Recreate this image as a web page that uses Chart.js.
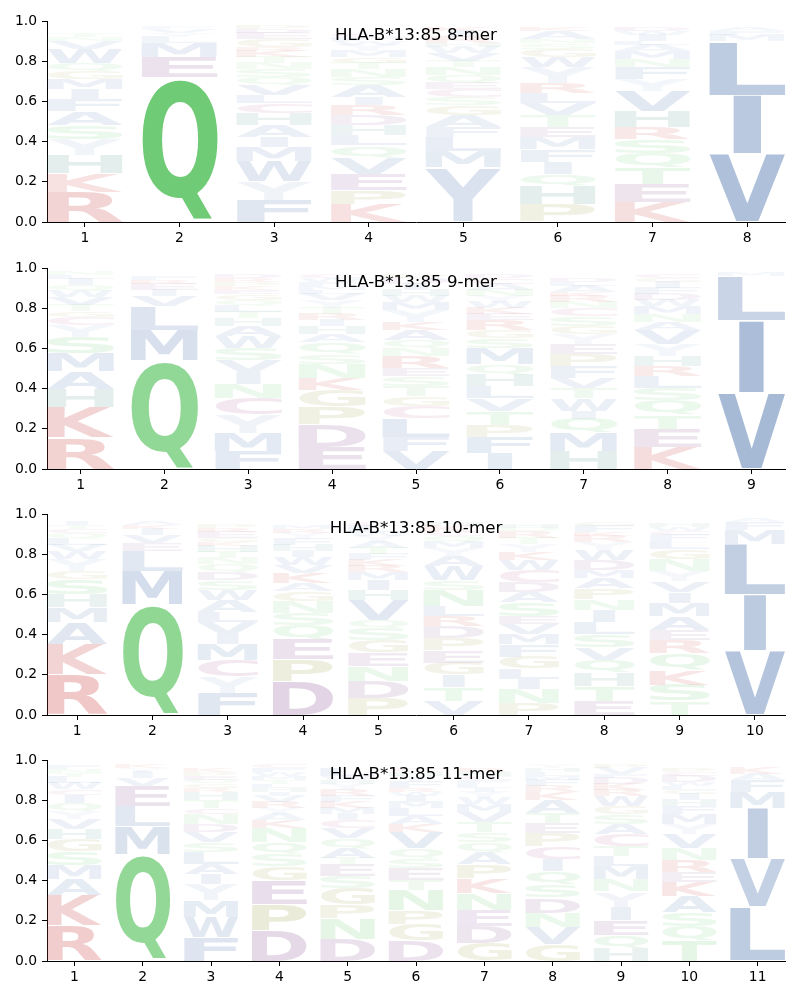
<!DOCTYPE html>
<html>
<head>
<meta charset="utf-8">
<script src="https://cdn.jsdelivr.net/npm/chart.js@4.4.1/dist/chart.umd.min.js"></script>
<style>
  body { margin: 0; background: #fff; }
  #wrap { position: relative; width: 800px; height: 1000px; }
  #wrap canvas { position: absolute; left: 0; }
</style>
</head>
<body>
<div id="wrap">
  <canvas id="p8" width="800" height="247" style="top:0px"></canvas>
  <canvas id="p9" width="800" height="247" style="top:247px"></canvas>
  <canvas id="p10" width="800" height="247" style="top:493px"></canvas>
  <canvas id="p11" width="800" height="247" style="top:739px"></canvas>
</div>
<script>
// letters per position, bottom to top, with their stacked heights
const mer8Letters = [
  "RKHYSAFIMGQWVNT", "QEMLYVF", "FYWMIAHCLVQSNTKRGEDP", "KPEVQLHDRIASNTGMYWFC",
  "YMLFAGSCEQNTVWHRIK", "PHQIFMETVLRYWGSNAK", "KETQSRHVYFNMALIWD", "VILMFA"
];
const mer8Heights = [
  [.15,.09,.09,.08,.07,.07,.06,.05,.05,.04,.04,.07,.04,.02,.02],
  [.72,.10,.07,.03,.02,.02,.01],
  [.11,.09,.10,.07,.05,.06,.06,.05,.04,.05,.04,.04,.03,.03,.03,.02,.04,.03,.02,.02],
  [.09,.07,.08,.08,.06,.05,.05,.05,.05,.04,.06,.04,.04,.03,.03,.03,.03,.02,.02,.02],
  [.27,.08,.07,.05,.06,.05,.04,.04,.03,.04,.04,.03,.04,.03,.02,.03,.03,.02],
  [.09,.09,.06,.06,.06,.06,.05,.06,.06,.05,.05,.08,.05,.04,.03,.02,.04,.02],
  [.10,.09,.08,.07,.07,.06,.08,.10,.06,.06,.04,.04,.03,.02,.03,.02,.02],
  [.34,.29,.27,.03,.02,.02]
];

const mer9Letters = [
  "RKHAMSYCGTVWQILN", "QMLVIERF", "FMYCNIVSWAHTLQGEKPRD", "EDPGKNSQAHIRTYVLMFWC",
  "VFLCGTSERNQAKYMWHIDP", "IFPTVLHQMSGREKWYNACD", "HMQIWTVFPEYGSCNRKALD",
  "KETQSLRHYVANMWDFIGC", "VILM"
];
const mer9Heights = [
  [.155,.15,.09,.09,.09,.08,.06,.04,.03,.03,.04,.03,.03,.03,.02,.02],
  [.54,.15,.12,.05,.03,.03,.02,.02],
  [.09,.09,.09,.08,.07,.06,.06,.06,.06,.05,.04,.03,.03,.03,.03,.02,.02,.02,.02,.02],
  [.11,.11,.09,.08,.06,.07,.05,.06,.04,.04,.03,.03,.03,.04,.03,.02,.02,.02,.02,.02],
  [.09,.07,.09,.06,.05,.05,.05,.04,.06,.04,.04,.05,.04,.06,.04,.03,.03,.03,.03,.02],
  [.08,.08,.06,.07,.06,.06,.06,.05,.08,.05,.04,.05,.03,.03,.03,.03,.03,.03,.03,.02],
  [.09,.09,.07,.04,.06,.05,.05,.06,.06,.05,.05,.04,.05,.04,.03,.03,.02,.03,.02,.02],
  [.11,.09,.07,.07,.06,.06,.05,.05,.06,.07,.04,.04,.04,.03,.03,.03,.03,.02,.02],
  [.38,.36,.22,.02]
];

const mer10Letters = [
  "RKAMHSGYWVLQCTI", "QMLEVIKA", "FYCMIVLAWSDQNTHKGERP", "DPEQSNGAKVWIHFYRM",
  "PDNEGSQVHIMRKFTAYWLC", "VTIGEPDRLNSWAYMQCKH", "PNILGFMVESADCWKYTRQH",
  "ETHQVSLINPAMDWYRKFG", "TSKQREAMIVYNGLFCWH", "VILMFA"
];
const mer10Heights = [
  [.20,.15,.11,.075,.065,.075,.04,.06,.04,.03,.03,.03,.02,.02,.02],
  [.55,.165,.10,.04,.04,.03,.02,.02],
  [.11,.08,.08,.08,.05,.06,.05,.06,.05,.05,.04,.04,.03,.03,.03,.02,.02,.03,.02,.02],
  [.165,.11,.10,.07,.06,.06,.05,.04,.05,.04,.04,.03,.03,.03,.03,.02,.02],
  [.085,.085,.075,.065,.06,.06,.04,.10,.05,.05,.04,.03,.03,.03,.03,.03,.03,.02,.03,.02],
  [.07,.07,.06,.06,.06,.06,.06,.05,.05,.08,.05,.07,.05,.04,.03,.03,.02,.03,.02],
  [.06,.07,.05,.05,.06,.06,.05,.05,.04,.07,.05,.05,.06,.05,.04,.04,.03,.03,.02,.02],
  [.07,.075,.065,.065,.06,.065,.06,.06,.055,.055,.05,.04,.05,.05,.04,.03,.02,.03,.02],
  [.07,.08,.075,.08,.065,.05,.07,.065,.055,.055,.05,.06,.05,.04,.03,.02,.02,.02],
  [.32,.28,.25,.07,.04,.02]
];

const mer11Letters = [
  "RKAMSGHVYQICWLTNF", "QMLEVIYK", "FWMYIALSVDNCTHRGQEPK", "DPEGSQNKAYRVIHLTMWFC",
  "DNPGSETAQVCIMKFRYHWL", "DGPNTESQVKALMIWRFYHC", "GDENKPAQSTVMWYILFCHR",
  "GVNDSQICPETAKRFMLHY", "HQEIYNMLTCASGWRKDFVP", "TQSAKERNVYMFHIGLWDCP", "LVIMFAK"
];
const mer11Heights = [
  [.175,.15,.08,.07,.07,.06,.05,.05,.04,.04,.04,.03,.03,.03,.02,.02,.02],
  [.53,.14,.10,.10,.04,.03,.02,.02],
  [.12,.10,.08,.08,.05,.05,.06,.05,.05,.04,.05,.03,.04,.04,.02,.02,.02,.02,.02,.02],
  [.15,.13,.12,.07,.06,.06,.07,.04,.03,.03,.03,.03,.02,.02,.02,.02,.02,.02,.02,.02],
  [.11,.10,.07,.08,.06,.06,.03,.05,.05,.05,.04,.03,.03,.03,.03,.03,.03,.02,.02,.04],
  [.10,.08,.07,.10,.05,.06,.05,.05,.08,.04,.04,.04,.03,.03,.02,.02,.03,.03,.02,.02],
  [.09,.085,.08,.08,.075,.07,.06,.05,.05,.05,.05,.04,.03,.03,.02,.02,.02,.02,.02,.02],
  [.085,.085,.07,.075,.065,.065,.06,.065,.065,.05,.05,.065,.04,.03,.03,.02,.02,.02,.02],
  [.065,.065,.075,.065,.075,.06,.065,.05,.05,.06,.05,.05,.04,.05,.03,.03,.03,.02,.03,.02],
  [.10,.07,.07,.08,.07,.05,.06,.06,.07,.05,.05,.04,.03,.03,.02,.02,.02,.03,.02,.02],
  [.27,.24,.25,.08,.06,.03,.03]
];

const yTicks = [0, 0.2, 0.4, 0.6, 0.8, 1.0];

// residue colour groups
const colors = {};
"AILMFWV".split('').forEach(c => colors[c] = [70, 110, 170]);
colors.Y = [150, 170, 210];
colors.H = [60, 140, 130];
"RK".split('').forEach(c => colors[c] = [200, 50, 50]);
"DE".split('').forEach(c => colors[c] = [130, 70, 140]);
"PG".split('').forEach(c => colors[c] = [150, 150, 60]);
"STNQ".split('').forEach(c => colors[c] = [89, 195, 96]);
colors.C = [170, 80, 140];

const GLYPH_FONT = 'bold 100px "DejaVu Sans"';

function glyphBox(ctx, ch) {
  ctx.font = GLYPH_FONT;
  const m = ctx.measureText(ch);
  return {
    left: m.actualBoundingBoxLeft,
    w: m.actualBoundingBoxLeft + m.actualBoundingBoxRight,
    h: m.actualBoundingBoxAscent + m.actualBoundingBoxDescent,
    desc: m.actualBoundingBoxDescent
  };
}

// narrow letters are not stretched wider than an 'E' would be
function drawGlyph(ctx, ch, x, yTop, w, h, fill) {
  if (h <= 0.3) return;
  ctx.save();
  ctx.textAlign = 'left';
  ctx.textBaseline = 'alphabetic';
  const g = glyphBox(ctx, ch);
  const e = glyphBox(ctx, 'E');
  const sx = Math.min(w / g.w, w / e.w);
  const drawnW = g.w * sx;
  ctx.translate(x + (w - drawnW) / 2, yTop + h);
  ctx.scale(sx, h / g.h);
  ctx.fillStyle = fill;
  ctx.fillText(ch, g.left, -g.desc);
  ctx.restore();
}

function logoPlugin(letters, heights, title) {
  return {
    id: 'logo',
    afterDatasetsDraw(chart) {
      const { ctx, scales: { x, y }, chartArea } = chart;
      letters.forEach((col, i) => {
        const pos = i + 1;
        const left = x.getPixelForValue(pos - 0.4);
        const right = x.getPixelForValue(pos + 0.4);
        let base = 0;
        col.split('').forEach((ch, j) => {
          const hv = heights[i][j];
          const top = y.getPixelForValue(base + hv * 0.985);
          const bot = y.getPixelForValue(base + hv * 0.015);
          const a = Math.min(1, 0.04 + 1.15 * hv);
          const c = colors[ch];
          drawGlyph(ctx, ch, left, top, right - left, bot - top,
            `rgba(${c[0]},${c[1]},${c[2]},${a})`);
          base += hv;
        });
      });
      ctx.save();
      ctx.font = '16.7px "DejaVu Sans"';
      ctx.fillStyle = '#000';
      ctx.textAlign = 'center';
      ctx.textBaseline = 'middle';
      ctx.fillText(title, (chartArea.left + chartArea.right) / 2, chartArea.top + 15);
      ctx.restore();
    }
  };
}

function makeLogo(id, letters, heights, title) {
  const n = letters.length;
  const positions = letters.map((_, i) => i + 1);
  const tickFont = { family: 'DejaVu Sans', size: 13.9 };
  new Chart(document.getElementById(id), {
    type: 'scatter',
    data: { datasets: [] },
    options: {
      responsive: false,
      animation: false,
      layout: { padding: { top: 21, right: 15, left: 0, bottom: 0 } },
      plugins: { legend: { display: false }, tooltip: { enabled: false } },
      scales: {
        x: {
          type: 'linear', min: 0.6, max: n + 0.4,
          afterBuildTicks: s => { s.ticks = positions.map(v => ({ value: v })); },
          afterFit: s => { s.height = 25; },
          grid: { drawOnChartArea: false, drawTicks: true, tickLength: 5, tickColor: '#000' },
          border: { display: true, color: '#000', width: 1 },
          ticks: { color: '#000', font: tickFont, padding: 3, maxRotation: 0, autoSkip: false }
        },
        y: {
          type: 'linear', min: 0, max: 1,
          afterBuildTicks: s => { s.ticks = yTicks.map(v => ({ value: v })); },
          afterFit: s => { s.width = 47; },
          grid: { drawOnChartArea: false, drawTicks: true, tickLength: 5, tickColor: '#000' },
          border: { display: true, color: '#000', width: 1 },
          ticks: { color: '#000', font: tickFont, padding: 5, callback: v => v.toFixed(1) }
        }
      }
    },
    plugins: [logoPlugin(letters, heights, title)]
  });
}

makeLogo('p8', mer8Letters, mer8Heights, 'HLA-B*13:85 8-mer');
makeLogo('p9', mer9Letters, mer9Heights, 'HLA-B*13:85 9-mer');
makeLogo('p10', mer10Letters, mer10Heights, 'HLA-B*13:85 10-mer');
makeLogo('p11', mer11Letters, mer11Heights, 'HLA-B*13:85 11-mer');
</script>
</body>
</html>
